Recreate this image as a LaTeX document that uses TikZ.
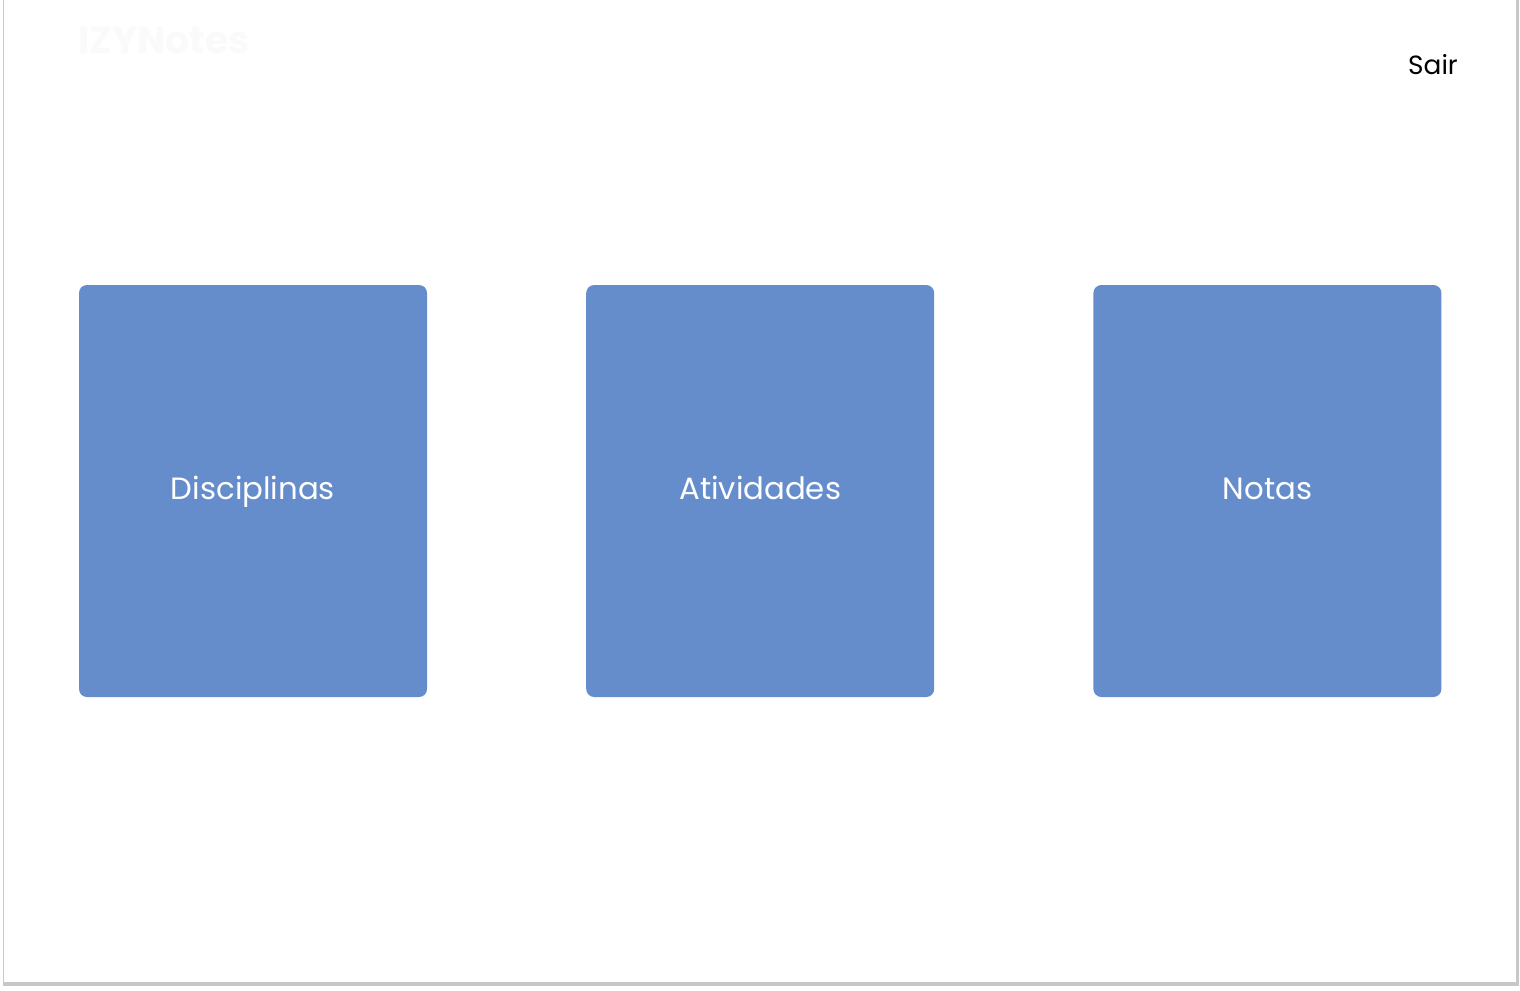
\documentclass[tikz,border=0pt]{standalone}
\usepackage{fontspec}
\setmainfont{Poppins}
\usetikzlibrary{positioning}
\usepackage{xcolor}
\definecolor{tileblue}{RGB}{101,141,204}
\definecolor{pageshadow}{RGB}{200,200,200}
\definecolor{logogray}{RGB}{250,250,250}

\begin{document}
\begin{tikzpicture}
\tikzstyle{tile}=[fill=tileblue, rectangle, rounded corners=0.16cm, minimum width=6.96cm, minimum height=8.24cm, text height=1.85ex, text depth=0.15ex, text=white, font=\fontsize{17.5}{20}\selectfont];
\useasboundingbox (0,0) rectangle (30.4,-19.8);
\begin{scope}
  % page
  \fill[pageshadow] (0.06,0) rectangle (30.38,-19.72);
  \fill[white] (0.08,0) rectangle (30.32,-19.64);

  \node (logo) at (3.28,-0.8) [text=logogray, font=\fontsize{21.5}{24}\selectfont\bfseries]{IZYNotes};
  \node (sair) at (28.66,-1.3) [font=\fontsize{15}{18}\selectfont]{Sair};

  \node (disciplinas) at (5.06,-9.82) [tile]{Disciplinas};
  \node (atividades) [right=3.17cm of disciplinas, tile]{Atividades};
  \node (notas) [right=3.17cm of atividades, tile]{Notas};
\end{scope}
\end{tikzpicture}
\end{document}
